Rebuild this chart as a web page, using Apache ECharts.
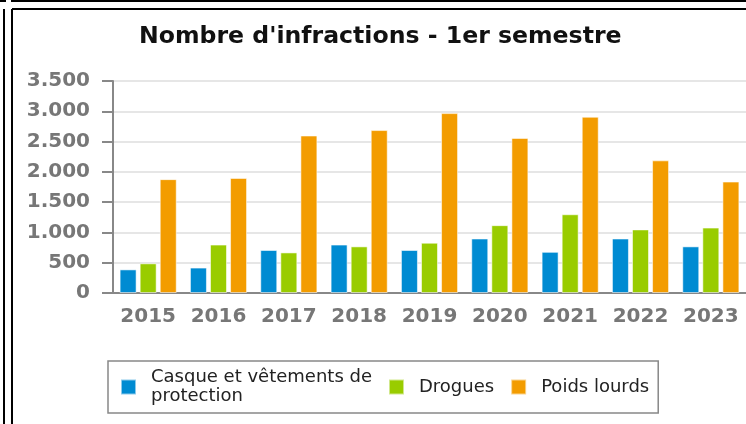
<!DOCTYPE html>
<html>
<head>
<meta charset="utf-8">
<script src="https://cdn.jsdelivr.net/npm/echarts@6/dist/echarts.min.js"></script>
<style>
html,body{margin:0;padding:0;background:#fff;}
#chart{width:746px;height:424px;}
</style>
</head>
<body>
<div id="chart"></div>
<script>
const titleText = "Nombre d'infractions - 1er semestre";
const categories = ['2015','2016','2017','2018','2019','2020','2021','2022','2023'];
const seriesNames = ['Casque et vêtements de\nprotection', 'Drogues', 'Poids lourds'];
const casque = [390, 420, 710, 800, 710, 900, 680, 900, 770];
const drogues = [490, 800, 670, 770, 830, 1120, 1300, 1050, 1080];
const poidsLourds = [1880, 1900, 2600, 2690, 2970, 2560, 2910, 2190, 1840];
const yTickValues = [0, 500, 1000, 1500, 2000, 2500, 3000, 3500];
const yTickLabels = ['0', '500', '1.000', '1.500', '2.000', '2.500', '3.000', '3.500'];
const colors = ['#008bd2', '#99cc00', '#f39c00'];

const chart = echarts.init(document.getElementById('chart'), null, {renderer: 'canvas'});
const font = 'DejaVu Sans';
function barSeries(name, data, color) {
  return {
    type: 'bar', name: name, data: data,
    barWidth: 17, barGap: '18%',
    itemStyle: {color: color, borderColor: 'rgba(255,255,255,0.55)', borderWidth: 1},
    animation: false
  };
}
chart.setOption({
  animation: false,
  title: {
    text: titleText, left: 139, top: 25, padding: 0,
    textStyle: {fontFamily: font, fontWeight: 'bold', fontSize: 23.6, color: '#111'}
  },
  graphic: [
    {type: 'line', shape: {x1: 0, y1: 1, x2: 6, y2: 1}, style: {stroke: '#000', lineWidth: 2}},
    {type: 'line', shape: {x1: 12, y1: 1, x2: 746, y2: 1}, style: {stroke: '#000', lineWidth: 2}},
    {type: 'line', shape: {x1: 12, y1: 0, x2: 12, y2: 2}, style: {stroke: '#000', lineWidth: 2}},
    {type: 'line', shape: {x1: 4, y1: 9, x2: 4, y2: 424}, style: {stroke: '#000', lineWidth: 2}},
    {type: 'line', shape: {x1: 12, y1: 9, x2: 12, y2: 424}, style: {stroke: '#000', lineWidth: 2}},
    {type: 'line', shape: {x1: 12, y1: 9, x2: 746, y2: 9}, style: {stroke: '#000', lineWidth: 2}}
  ],
  legend: {
    data: seriesNames,
    left: 108, top: 361,
    orient: 'horizontal',
    icon: 'rect', itemWidth: 15, itemHeight: 15, itemGap: 16,
    padding: [7, 9, 7, 12],
    borderColor: '#888', borderWidth: 1.5,
    textStyle: {fontFamily: font, fontSize: 18, color: '#222', lineHeight: 19, padding: [0, 0, 0, 10]}
  },
  grid: {left: 113, right: 0, top: 81, bottom: 131},
  xAxis: {
    type: 'category', data: categories,
    axisLine: {lineStyle: {color: '#888', width: 2}},
    axisTick: {length: 8, lineStyle: {color: '#888', width: 2}},
    axisLabel: {fontFamily: font, fontWeight: 'bold', fontSize: 20, color: '#777', margin: 14, interval: 0}
  },
  yAxis: {
    type: 'value', min: 0, max: 3500, interval: 500,
    axisLine: {show: true, lineStyle: {color: '#888', width: 2}},
    axisTick: {show: true, length: 11, lineStyle: {color: '#888', width: 2}},
    axisLabel: {
      fontFamily: font, fontWeight: 'bold', fontSize: 20, color: '#777', margin: 23,
      formatter: function (v) { const i = yTickValues.indexOf(v); return i >= 0 ? yTickLabels[i] : String(v); }
    },
    splitLine: {lineStyle: {color: '#e6e6e6', width: 2}}
  },
  series: [
    barSeries(seriesNames[0], casque, colors[0]),
    barSeries(seriesNames[1], drogues, colors[1]),
    barSeries(seriesNames[2], poidsLourds, colors[2])
  ]
});
</script>
</body>
</html>
